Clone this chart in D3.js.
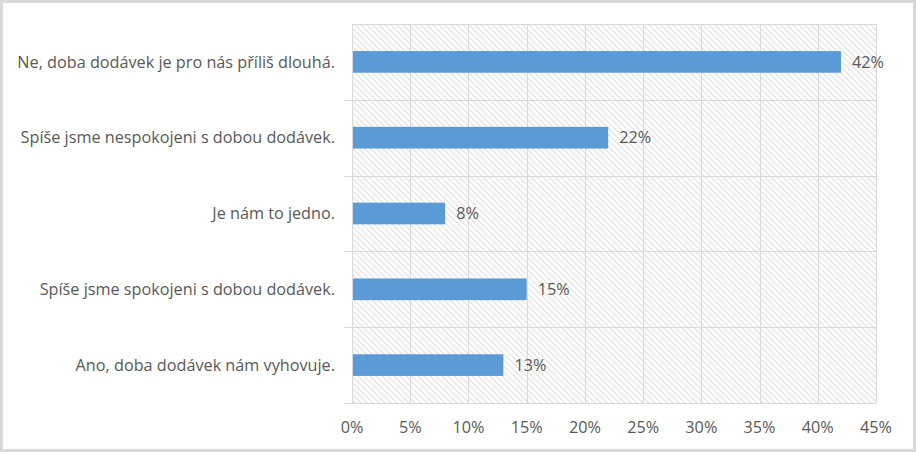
<!DOCTYPE html>
<html><head><meta charset="utf-8">
<script src="https://cdn.jsdelivr.net/npm/d3@7/dist/d3.min.js"></script>
<style>
html,body{margin:0;padding:0;background:#fff;}
svg{display:block;}
text{font-family:"Open Sans",Lato,sans-serif;fill:#595959;}
</style></head><body>
<svg id="c" width="916" height="452"></svg>
<script>
const categories = [
  "Ne, doba dodávek je pro nás příliš dlouhá.",
  "Spíše jsme nespokojeni s dobou dodávek.",
  "Je nám to jedno.",
  "Spíše jsme spokojeni s dobou dodávek.",
  "Ano, doba dodávek nám vyhovuje."
];
const values = [42, 22, 8, 15, 13];
const xTicks = [0,5,10,15,20,25,30,35,40,45];

const svg = d3.select("#c");
const W = 916, H = 452;
const m = {left:352, right:40, top:24, bottom:49};

// font size chosen so the longest label matches the reference width (~318px)
const probe = svg.append("text").attr("font-size","14px").text(categories[0]);
const w14 = probe.node().getComputedTextLength();
probe.remove();
const fs = 14 * 318 / w14;

// outer frame
svg.append("rect").attr("x",1.5).attr("y",1.5).attr("width",W-3).attr("height",H-3)
  .attr("fill","#fff").attr("stroke","#d9d9d9").attr("stroke-width",3);

const defs = svg.append("defs");
const pat = defs.append("pattern").attr("id","hatch").attr("patternUnits","userSpaceOnUse")
  .attr("width",6).attr("height",6);
pat.append("rect").attr("width",6).attr("height",6).attr("fill","#fff");
pat.append("path").attr("d","M-1,-1 L7,7 M-1,5 L1,7 M5,-1 L7,1")
  .attr("stroke","#e0e0e0").attr("stroke-width",1.2);

const x = d3.scaleLinear().domain([0,45]).range([m.left, W-m.right]);
const y = d3.scaleBand().domain(categories).range([m.top, H-m.bottom]).paddingInner(0.714).paddingOuter(0.357);

// plot background
svg.append("rect").attr("x",x(0)).attr("y",m.top).attr("width",x(45)-x(0)).attr("height",H-m.bottom-m.top)
  .attr("fill","url(#hatch)");

// vertical gridlines
svg.append("g").selectAll("line").data(xTicks).join("line")
  .attr("x1",d=>Math.round(x(d))+0.5).attr("x2",d=>Math.round(x(d))+0.5)
  .attr("y1",m.top).attr("y2",H-m.bottom)
  .attr("stroke","#d9d9d9").attr("stroke-width",1);

// horizontal category boundaries (with tick extension)
const bounds = d3.range(categories.length+1).map(i => m.top + i*(H-m.bottom-m.top)/categories.length);
svg.append("g").selectAll("line").data(bounds).join("line")
  .attr("x1",(d,i)=> i===0 ? x(0) : x(0)-8).attr("x2",x(45))
  .attr("y1",d=>Math.round(d)+0.5).attr("y2",d=>Math.round(d)+0.5)
  .attr("stroke","#d9d9d9").attr("stroke-width",1);

// bars
svg.append("g").selectAll("rect").data(values).join("rect")
  .attr("x",x(0)+1).attr("y",(d,i)=>y(categories[i]))
  .attr("width",d=>x(d)-x(0)-1).attr("height",y.bandwidth())
  .attr("fill","#5B9BD5");

// value labels
svg.append("g").selectAll("text").data(values).join("text")
  .attr("x",d=>x(d)+11).attr("y",(d,i)=>y(categories[i])+y.bandwidth()/2)
  .attr("dy","0.35em").attr("font-size",fs+"px").text(d=>d+"%");

// category labels
svg.append("g").selectAll("text").data(categories).join("text")
  .attr("x",x(0)-17).attr("y",d=>y(d)+y.bandwidth()/2)
  .attr("dy","0.35em").attr("text-anchor","end").attr("font-size",fs+"px").text(d=>d);

// x tick labels
svg.append("g").selectAll("text").data(xTicks).join("text")
  .attr("x",d=>x(d)).attr("y",H-m.bottom+24)
  .attr("dy","0.35em").attr("text-anchor","middle").attr("font-size",fs+"px").text(d=>d+"%");
</script>
</body></html>
